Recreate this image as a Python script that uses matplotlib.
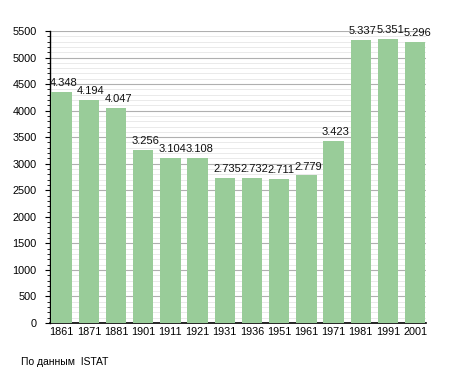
import matplotlib
matplotlib.use("Agg")
import matplotlib.pyplot as plt
from matplotlib.ticker import MultipleLocator
import matplotlib.transforms as mtransforms

years = ["1861", "1871", "1881", "1901", "1911", "1921", "1931", "1936",
         "1951", "1961", "1971", "1981", "1991", "2001"]
population = [4348, 4194, 4047, 3256, 3104, 3108, 2735, 2732,
              2711, 2779, 3423, 5337, 5351, 5296]
source_note = "По данным  ISTAT"

plt.rcParams['font.family'] = ['Liberation Sans', 'DejaVu Sans']

fig = plt.figure(figsize=(4.55, 3.73), dpi=100)
ax = fig.add_axes([50/455, 1 - 323/373, (426 - 50)/455, (323 - 31)/373])

x = list(range(len(years)))
ax.bar(x, population, width=0.75, color='#99cc99', zorder=3)

for xi, v in zip(x, population):
    label = f"{v // 1000}.{v % 1000:03d}"
    ax.annotate(label, (xi, v), xytext=(1.5, 2.8), textcoords='offset points',
                ha='center', va='bottom', fontsize=8, color='#111111', zorder=4)

ax.set_xlim(-0.43, 13.4)
ax.set_ylim(0, 5500)
ax.yaxis.set_major_locator(MultipleLocator(500))
ax.yaxis.set_minor_locator(MultipleLocator(100))
ax.set_xticks(x)
ax.set_xticklabels(years, fontsize=7.8)

offset = mtransforms.ScaledTranslation(-1.5/100, 0, fig.dpi_scale_trans)
for lab in ax.get_xticklabels():
    lab.set_transform(lab.get_transform() + offset)

ax.grid(axis='y', which='major', color='#b0b0b0', linewidth=0.8, zorder=1)
ax.grid(axis='y', which='minor', color='#e6e6e6', linewidth=0.6, zorder=0)

for s in ['top', 'right']:
    ax.spines[s].set_visible(False)
ax.spines['left'].set_linewidth(1.0)
ax.spines['bottom'].set_linewidth(1.2)

ax.tick_params(axis='y', which='major', length=3.6, width=0.8, labelsize=7.8, pad=6)
ax.tick_params(axis='y', which='minor', length=2.0, width=0.6)
ax.tick_params(axis='x', which='both', length=0, pad=3)

fig.text(21/455, 1 - 362/373, source_note, fontsize=7.5, ha='left', va='center')

fig.savefig("out.png", dpi=100)
